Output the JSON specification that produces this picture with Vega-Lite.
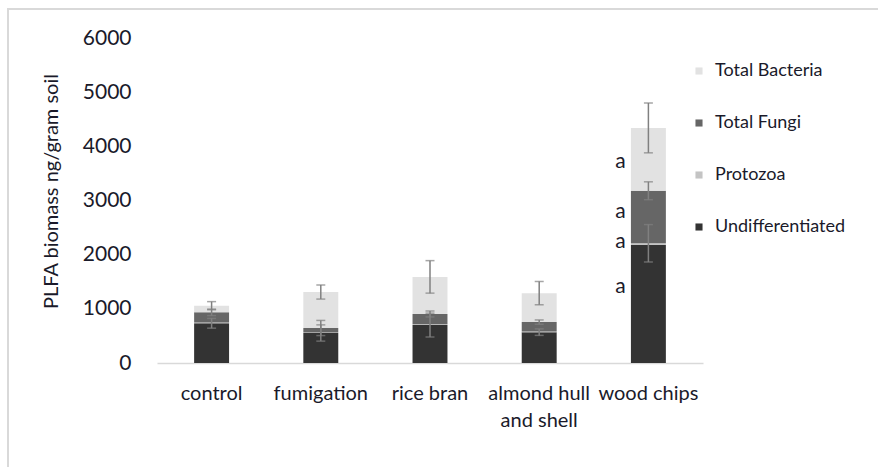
{
  "$schema": "https://vega.github.io/schema/vega-lite/v6.json",
  "autosize": "none",
  "width": 880,
  "height": 470,
  "padding": {"left": 8, "top": 9, "right": 0, "bottom": 0},
  "background": "white",
  "config": {
    "view": {"stroke": "#d9d9d9", "strokeWidth": 2},
    "font": "Lato",
    "tick": {"bandSize": 9}
  },
  "datasets": {
    "bars": [
      {"treatment": "control", "group": "Undifferentiated", "ord": 1, "value": 733},
      {"treatment": "control", "group": "Protozoa", "ord": 2, "value": 15},
      {"treatment": "control", "group": "Total Fungi", "ord": 3, "value": 187},
      {"treatment": "control", "group": "Total Bacteria", "ord": 4, "value": 123},
      {"treatment": "fumigation", "group": "Undifferentiated", "ord": 1, "value": 554},
      {"treatment": "fumigation", "group": "Protozoa", "ord": 2, "value": 10},
      {"treatment": "fumigation", "group": "Total Fungi", "ord": 3, "value": 82},
      {"treatment": "fumigation", "group": "Total Bacteria", "ord": 4, "value": 664},
      {"treatment": "rice bran", "group": "Undifferentiated", "ord": 1, "value": 700},
      {"treatment": "rice bran", "group": "Protozoa", "ord": 2, "value": 15},
      {"treatment": "rice bran", "group": "Total Fungi", "ord": 3, "value": 190},
      {"treatment": "rice bran", "group": "Total Bacteria", "ord": 4, "value": 685},
      {"treatment": "almond hull and shell", "group": "Undifferentiated", "ord": 1, "value": 570},
      {"treatment": "almond hull and shell", "group": "Protozoa", "ord": 2, "value": 10},
      {"treatment": "almond hull and shell", "group": "Total Fungi", "ord": 3, "value": 175},
      {"treatment": "almond hull and shell", "group": "Total Bacteria", "ord": 4, "value": 535},
      {"treatment": "wood chips", "group": "Undifferentiated", "ord": 1, "value": 2180},
      {"treatment": "wood chips", "group": "Protozoa", "ord": 2, "value": 30},
      {"treatment": "wood chips", "group": "Total Fungi", "ord": 3, "value": 970},
      {"treatment": "wood chips", "group": "Total Bacteria", "ord": 4, "value": 1160}
    ],
    "errs": [
      {"treatment": "control", "lo": 643, "hi": 823},
      {"treatment": "control", "lo": 875, "hi": 995},
      {"treatment": "control", "lo": 983, "hi": 1133},
      {"treatment": "fumigation", "lo": 404, "hi": 704},
      {"treatment": "fumigation", "lo": 506, "hi": 786},
      {"treatment": "fumigation", "lo": 1180, "hi": 1440},
      {"treatment": "rice bran", "lo": 480, "hi": 920},
      {"treatment": "rice bran", "lo": 850, "hi": 960},
      {"treatment": "rice bran", "lo": 1290, "hi": 1890},
      {"treatment": "almond hull and shell", "lo": 510, "hi": 630},
      {"treatment": "almond hull and shell", "lo": 715, "hi": 795},
      {"treatment": "almond hull and shell", "lo": 1075, "hi": 1505},
      {"treatment": "wood chips", "lo": 1865, "hi": 2555},
      {"treatment": "wood chips", "lo": 3015, "hi": 3345},
      {"treatment": "wood chips", "lo": 3880, "hi": 4800}
    ],
    "letters": [
      {"treatment": "wood chips", "y": 3711, "label": "a"},
      {"treatment": "wood chips", "y": 2788, "label": "a"},
      {"treatment": "wood chips", "y": 2240, "label": "a"},
      {"treatment": "wood chips", "y": 1400, "label": "a"}
    ]
  },
  "encoding": {
    "x": {
      "field": "treatment",
      "type": "nominal",
      "sort": ["control", "fumigation", "rice bran", "almond hull and shell", "wood chips"],
      "scale": {"range": [149, 695], "paddingInner": 0.68, "paddingOuter": 0.34},
      "axis": {
        "title": null,
        "orient": "bottom",
        "offset": -116,
        "domainColor": "#d9d9d9",
        "domainWidth": 1.5,
        "ticks": false,
        "tickSize": 0,
        "labelPadding": 20,
        "labelAngle": 0,
        "labelFont": "Lato",
        "labelFontSize": 20,
        "labelColor": "#1a1a2a",
        "labelBaseline": "top",
        "labelLineHeight": 27,
        "labelOverlap": false,
        "labelBound": false,
        "labelFlush": false,
        "labelExpr": "datum.label == 'almond hull and shell' ? ['almond hull', 'and shell'] : datum.label"
      }
    }
  },
  "layer": [
    {
      "data": {"name": "bars"},
      "mark": {"type": "bar"},
      "encoding": {
        "y": {
          "field": "value",
          "type": "quantitative",
          "stack": "zero",
          "scale": {"domain": [0, 6000], "range": [354, 29], "nice": false},
          "axis": {
            "title": "PLFA biomass ng/gram soil",
            "orient": "left",
            "offset": -127,
            "values": [0, 1000, 2000, 3000, 4000, 5000, 6000],
            "format": "d",
            "grid": false,
            "domain": false,
            "ticks": false,
            "tickSize": 0,
            "labelPadding": 4,
            "labelFont": "Lato",
            "labelFontSize": 21,
            "labelColor": "#1a1a2a",
            "titleFont": "Lato",
            "titleFontSize": 20,
            "titleFontWeight": "normal",
            "titleColor": "#1a1a2a",
            "titleX": -84,
            "titleY": 182,
            "titleAlign": "center",
            "titleBaseline": "middle",
            "titleAngle": -90
          }
        },
        "color": {
          "field": "group",
          "type": "nominal",
          "scale": {
            "domain": ["Total Bacteria", "Total Fungi", "Protozoa", "Undifferentiated"],
            "range": ["#e2e2e2", "#666666", "#c4c4c4", "#333333"]
          },
          "legend": {
            "title": null,
            "orient": "none",
            "legendX": 682,
            "legendY": 53,
            "padding": 0,
            "symbolType": "square",
            "symbolSize": 50,
            "symbolStrokeWidth": 0,
            "labelOffset": 7,
            "labelFont": "Lato",
            "labelFontSize": 18,
            "labelColor": "#1a1a2a",
            "rowPadding": 34
          }
        },
        "order": {"field": "ord", "type": "quantitative", "sort": "ascending"}
      }
    },
    {
      "data": {"name": "errs"},
      "mark": {"type": "rule", "color": "#808080", "strokeWidth": 1.5},
      "encoding": {
        "y": {"field": "lo", "type": "quantitative"},
        "y2": {"field": "hi"}
      }
    },
    {
      "data": {"name": "errs"},
      "mark": {"type": "tick", "color": "#808080", "thickness": 1.5, "size": 9, "orient": "horizontal"},
      "encoding": {
        "y": {"field": "hi", "type": "quantitative"}
      }
    },
    {
      "data": {"name": "errs"},
      "mark": {"type": "tick", "color": "#808080", "thickness": 1.5, "size": 9, "orient": "horizontal"},
      "encoding": {
        "y": {"field": "lo", "type": "quantitative"}
      }
    },
    {
      "data": {"name": "letters"},
      "mark": {"type": "text", "dx": -28, "font": "Lato", "fontSize": 21, "color": "#1a1a2a", "align": "center", "baseline": "middle"},
      "encoding": {
        "y": {"field": "y", "type": "quantitative"},
        "text": {"field": "label"}
      }
    }
  ]
}
